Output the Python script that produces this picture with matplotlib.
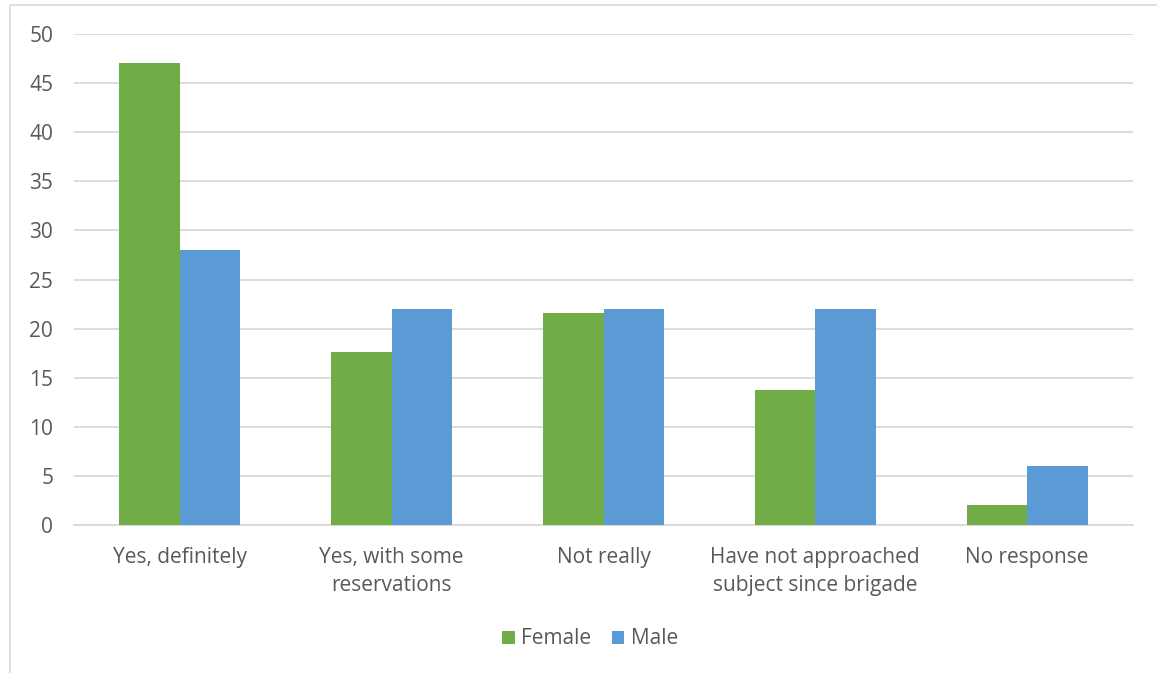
import matplotlib
matplotlib.use("Agg")
import matplotlib.pyplot as plt
from matplotlib.patches import Rectangle
import numpy as np

categories = ["Yes, definitely", "Yes, with some\nreservations", "Not really",
              "Have not approached\nsubject since brigade", "No response"]
female = [47, 17.6, 21.6, 13.7, 2]
male = [28, 22, 22, 22, 6]
yticks = [0, 5, 10, 15, 20, 25, 30, 35, 40, 45, 50]

GREEN = "#70AD47"
BLUE = "#5B9BD5"
TEXT = "#595959"
GRID = "#D9D9D9"

plt.rcParams["font.family"] = ["Open Sans", "DejaVu Sans"]

W, H = 1157, 673
fig = plt.figure(figsize=(W / 100, H / 100), dpi=100)
ax = fig.add_axes([74 / W, 1 - 525 / H, (1133 - 74) / W, (525 - 34) / H])

x = np.arange(len(categories))
bw = 1 / 3.5
ax.bar(x - bw / 2, female, bw, color=GREEN, label="Female", zorder=3)
ax.bar(x + bw / 2, male, bw, color=BLUE, label="Male", zorder=3)

ax.set_xlim(-0.5, len(categories) - 0.5)
ax.set_ylim(0, 50)
ax.set_yticks(yticks)
ax.yaxis.grid(True, color=GRID, linewidth=1.3, zorder=0)
ax.set_axisbelow(True)
for s in ["top", "right", "left"]:
    ax.spines[s].set_visible(False)
ax.spines["bottom"].set_color(GRID)
ax.spines["bottom"].set_linewidth(1.3)
ax.tick_params(axis="both", length=0, colors=TEXT, labelsize=15)
ax.tick_params(axis="y", pad=15)
ax.tick_params(axis="x", pad=15.5)
ax.set_xticks(x)
ax.set_xticklabels(categories, linespacing=1.45)

fig.legend(loc="center", bbox_to_anchor=(590 / W, 1 - 639 / H), ncol=2,
           frameon=False, fontsize=15, handlelength=0.6, handleheight=0.6,
           handletextpad=0.3, columnspacing=1.0, labelcolor=TEXT)

# outer chart border
fig.patches.append(Rectangle((10 / W, -0.1), 1.1, 1.1 - 5 / H,
                             transform=fig.transFigure, fill=False,
                             edgecolor=GRID, linewidth=1.2))

fig.savefig("out.png", dpi=100, facecolor="white")
